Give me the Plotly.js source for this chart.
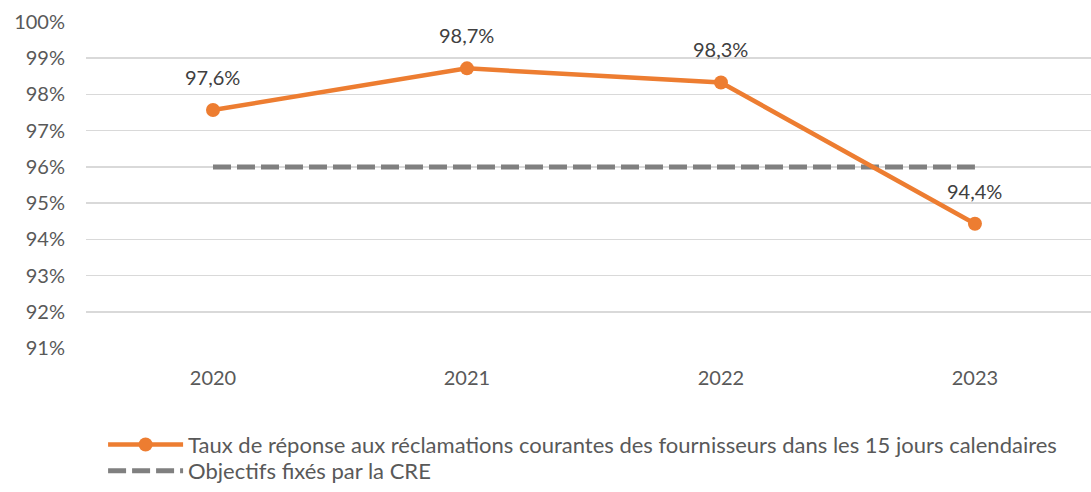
<!DOCTYPE html>
<html><head><meta charset="utf-8">
<script src="https://cdn.plot.ly/plotly-3.0.1.min.js"></script>
<style>html,body{margin:0;padding:0;background:#fff}#chart{width:1091px;height:492px}</style>
</head><body><div id="chart"></div>
<script>
const years = ['2020','2021','2022','2023'];
const taux = [97.57, 98.72, 98.33, 94.43];
const tauxLabels = ['97,6%','98,7%','98,3%','94,4%'];
const objectif = [96, 96, 96, 96];
const yTickVals = [91,92,93,94,95,96,97,98,99,100];
const yTickText = ['91%','92%','93%','94%','95%','96%','97%','98%','99%','100%'];
const nameTaux = 'Taux de réponse aux réclamations courantes des fournisseurs dans les 15 jours calendaires';
const nameObj = 'Objectifs fixés par la CRE';

const FONT = 'Lato, "Noto Sans", sans-serif';
const TXT = '#595959';

const traces = [
  {x: years, y: objectif, name: nameObj, legend: 'legend2', type: 'scatter', mode: 'lines',
   line: {color: '#808080', width: 5, dash: '18px,6px'}, hoverinfo: 'skip'},
  {x: years, y: taux, name: nameTaux, legend: 'legend', type: 'scatter', mode: 'lines+markers',
   line: {color: '#ED7D31', width: 4.5}, marker: {color: '#ED7D31', size: 14}}
];

const annotations = years.map((yr, i) => ({
  x: i, y: taux[i], xref: 'x', yref: 'y', text: tauxLabels[i], showarrow: false, yshift: 33,
  font: {family: FONT, size: 20, color: '#404040'}
}));

const legendBase = {orientation: 'v', x: 0.017, xanchor: 'left',
  font: {family: FONT, size: 22, color: TXT}, itemwidth: 75, bgcolor: 'rgba(0,0,0,0)'};

const layout = {
  width: 1091, height: 492,
  margin: {l: 86, r: 0, t: 22, b: 144, autoexpand: false},
  paper_bgcolor: '#fff', plot_bgcolor: '#fff',
  font: {family: FONT, color: TXT, size: 20},
  showlegend: true,
  legend: Object.assign({}, legendBase, {y: -0.232, yanchor: 'top'}),
  legend2: Object.assign({}, legendBase, {y: -0.4417, yanchor: 'bottom'}),
  xaxis: {type: 'category', range: [-0.5, 3.457], showgrid: false, zeroline: false, showline: false,
          ticks: '', ticklabelstandoff: 16, tickfont: {family: FONT, size: 20, color: TXT}, fixedrange: true},
  yaxis: {range: [91, 100], tickvals: yTickVals, ticktext: yTickText, showgrid: true,
          gridcolor: '#D9D9D9', gridwidth: 1.5, zeroline: false, showline: false, ticks: '',
          ticklabelstandoff: 20, tickfont: {family: FONT, size: 20, color: TXT}, fixedrange: true},
  annotations: annotations
};
Plotly.newPlot('chart', traces, layout, {displayModeBar: false, staticPlot: true});
</script></body></html>
